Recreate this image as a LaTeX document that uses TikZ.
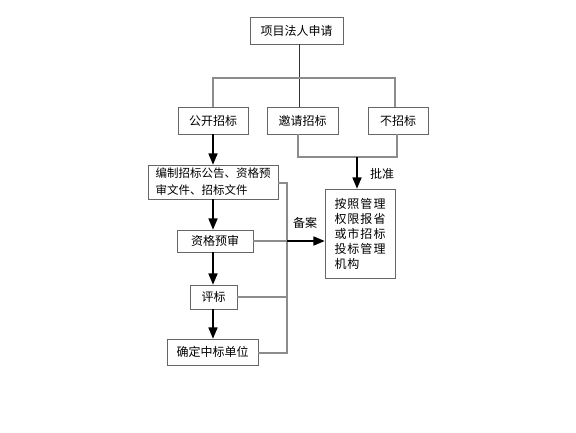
\documentclass[tikz,border=0pt]{standalone}
\usepackage{fontspec}
\newfontfamily\cjk{Noto Sans CJK SC}
\usetikzlibrary{arrows}

\begin{document}
\begin{tikzpicture}[x=1pt,y=-1pt,>=triangle 45,font=\cjk\fontsize{12}{14}\selectfont]
  \tikzstyle{box}=[draw=black!60,line width=0.8pt,inner sep=0pt,minimum height=27pt,text=black]
  \tikzstyle{flow}=[->,line width=1.6pt,black]
  \tikzstyle{link}=[draw=black!45,line width=1.1pt]

  \useasboundingbox (0,0) rectangle (576,432);

  \node[box,minimum width=93pt] (apply) at (296.5,30.5) {项目法人申请};
  \node[box,minimum width=70pt] (open) at (213,120.5) {公开招标};
  \node[box,minimum width=71pt] (invite) at (302.5,120.5) {邀请招标};
  \node[box,minimum width=60pt] (none) at (398,120.5) {不招标};
  \node[box,minimum width=130pt,minimum height=34pt,align=left,font=\cjk\fontsize{11.5}{17}\selectfont] (prep) at (213,182) {编制招标公告、资格预\\审文件、招标文件};
  \node[box,minimum width=76pt,minimum height=22pt] (prequal) at (215,241) {资格预审};
  \node[box,minimum width=47pt,minimum height=24pt] (evalb) at (213.5,297) {评标};
  \node[box,minimum width=91pt,minimum height=26pt] (award) at (212.5,352) {确定中标单位};
  \node[box,minimum width=70pt,minimum height=89pt,align=left,font=\cjk\fontsize{12}{15}\selectfont] (auth) at (360,233.5) {按\kern1pt 照\kern1pt 管\kern1pt 理\\权\kern1pt 限\kern1pt 报\kern1pt 省\\或\kern1pt 市\kern1pt 招\kern1pt 标\\投\kern1pt 标\kern1pt 管\kern1pt 理\\机\kern1pt 构};

  \coordinate (split) at (299,78);
  \coordinate (join) at (357,157);
  \coordinate (bustop) at (287,183);
  \coordinate (busend) at (287,353);

  % tree from the application
  \draw[black!80,line width=1pt] (apply.south -| split) -- (invite.north -| split);
  \draw[link] (open.north) |- (split) -| ([xshift=-3pt]none.north);
  \draw[link] ([xshift=-4.5pt]invite.south) |- (join) -| ([xshift=-1pt]none.south);
  \draw[flow] (join) -- (auth.north -| join);
  \node at (382,174) {批准};

  % main sequence
  \draw[flow] (open.south) -- (prep.north);
  \draw[flow] (prep.south) -- (prep.south |- prequal.north);
  \draw[flow] (prequal.south -| prep.south) -- (prep.south |- evalb.north);
  \draw[flow] (evalb.south -| prep.south) -- (prep.south |- award.north);

  % reporting line
  \draw[link] (prep.east |- bustop) -- (bustop) -- (busend) -- (award.east |- busend);
  \draw[link] (prequal.east) -- (prequal.east -| bustop);
  \draw[link] (evalb.east) -- (evalb.east -| bustop);
  \draw[flow] (prequal.east -| bustop) -- (auth.west |- prequal.east);
  \node at (305,223) {备案};
\end{tikzpicture}
\end{document}
